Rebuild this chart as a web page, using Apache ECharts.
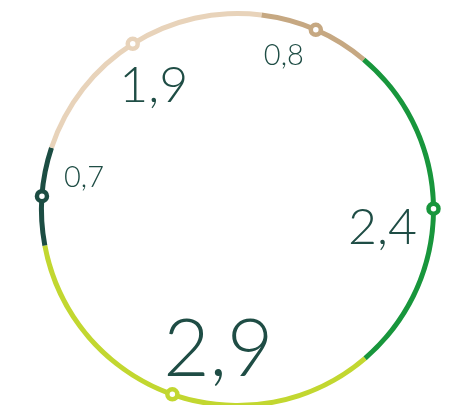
<!DOCTYPE html>
<html>
<head>
<meta charset="utf-8">
<style>
  html, body { margin: 0; padding: 0; background: #ffffff; }
  #chart { width: 462px; height: 405px; }
</style>
<script src="https://cdn.jsdelivr.net/npm/echarts@6/dist/echarts.min.js"></script>
</head>
<body>
<div id="chart"></div>
<script>
// Ring segments, clockwise from the top
const values = [0.8, 2.4, 2.9, 0.7, 1.9];
const colors = ['#c6a882', '#18963c', '#c2d730', '#1c4d43', '#e8d3ba'];

// Label styling per segment (font size, offset of the text centre from its marker)
const labelSizes = [29, 50, 80, 29, 50];
const labelOffsets = [[-32, 26], [-51, 19], [46, -44], [42, -19], [21, 42]];

const total = values.reduce((a, b) => a + b, 0);
const startAngle = 83;
const center = [237.5, 209.5];
const ringRadius = 196;
const ringWidth = 5;

// Marker sits at the middle of each segment, in axis units
const mids = [];
let acc = 0;
values.forEach(v => { mids.push(acc + v / 2); acc += v; });

const fmt = v => String(v).replace('.', ',');

const chart = echarts.init(document.getElementById('chart'), null, { renderer: 'canvas' });
chart.setOption({
  animation: false,
  backgroundColor: '#ffffff',
  polar: { center: center, radius: ringRadius },
  angleAxis: {
    type: 'value', min: 0, max: total, startAngle: startAngle, clockwise: true,
    axisLine: { show: false }, axisTick: { show: false },
    axisLabel: { show: false }, splitLine: { show: false }
  },
  radiusAxis: {
    type: 'value', min: 0, max: 1,
    axisLine: { show: false }, axisTick: { show: false },
    axisLabel: { show: false }, splitLine: { show: false }
  },
  series: [
    {
      type: 'pie',
      center: center,
      radius: [ringRadius - ringWidth / 2, ringRadius + ringWidth / 2],
      startAngle: startAngle,
      clockwise: true,
      silent: true,
      label: { show: false },
      labelLine: { show: false },
      itemStyle: { borderWidth: 0 },
      data: values.map((v, i) => ({ value: v, itemStyle: { color: colors[i] } }))
    },
    {
      type: 'scatter',
      coordinateSystem: 'polar',
      symbol: 'circle',
      symbolSize: 10,
      silent: true,
      z: 5,
      data: values.map((v, i) => ({
        value: [1, mids[i]],
        itemStyle: { color: '#ffffff', borderColor: colors[i], borderWidth: 4.5, opacity: 1 },
        label: {
          show: true,
          position: 'inside',
          offset: labelOffsets[i],
          formatter: fmt(v),
          fontFamily: 'Lato',
          fontWeight: 300,
          fontSize: labelSizes[i],
          color: '#1f4d45',
          opacity: 1
        }
      }))
    }
  ]
});
</script>
</body>
</html>
